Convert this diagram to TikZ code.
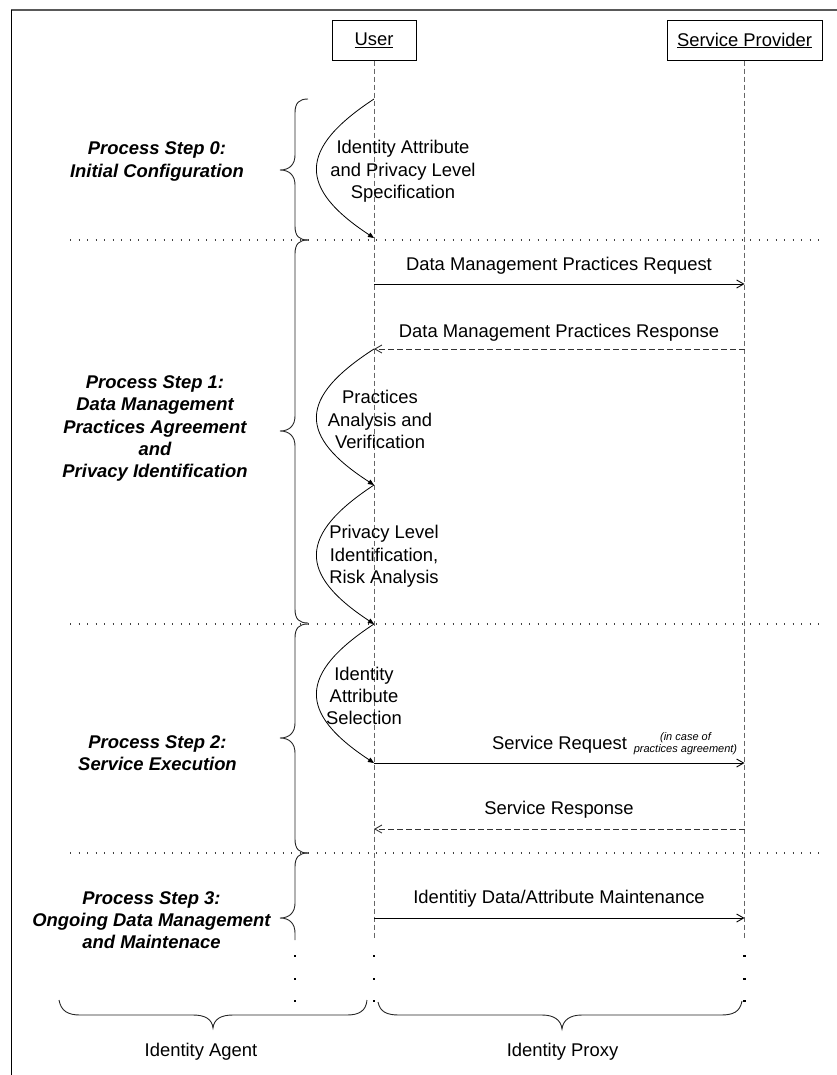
\documentclass[tikz,border=0pt]{standalone}
\usepackage{fontspec}
\setmainfont{Liberation Sans}
\usetikzlibrary{arrows.meta}

\newcommand\lbl{\fontsize{18.4}{22.3}\selectfont}
\newcommand\steplbl{\fontsize{18.4}{22.3}\selectfont\bfseries\itshape}
\newcommand\notelbl{\fontsize{11}{12}\selectfont\itshape}

\tikzset{
  lifebox/.style={draw, line width=0.9pt, minimum height=39.5pt, inner sep=0pt, font=\lbl},
  lifeline/.style={draw=black!60, line width=0.9pt, dash pattern=on 5pt off 3pt},
  msg/.style={line width=0.9pt, -{Straight Barb[length=7pt,width=8pt]}},
  reply/.style={msg, draw=black!80, dash pattern=on 6pt off 3pt},
  selfcall/.style={line width=0.8pt, -{Triangle[length=6pt,width=5pt]}},
  sep/.style={draw=black!75, line width=1.1pt, dash pattern=on 1.1pt off 7.4pt},
  bracket/.style={line width=0.9pt, draw=black!85},
  txt/.style={font=\lbl, align=center, inner sep=0pt},
  steptxt/.style={font=\steplbl, align=center, inner sep=0pt},
  note/.style={font=\notelbl, align=center, inner sep=0pt},
  dot/.style={fill=black, minimum size=2.6pt, inner sep=0pt},
}

\begin{document}
\begin{tikzpicture}[x=1pt,y=-1pt]
\useasboundingbox (0,0) rectangle (837,1075);

% frame
\draw[black!65, line width=1.2pt] (11,10) -- (837,10);
\draw[line width=1pt] (11,10) -- (11,1075);

% participants
\node[lifebox, minimum width=84pt] (user) at (374,40.5) {\underline{User}};
\node[lifebox, minimum width=155pt] (sp) at (744.5,40.5) {\underline{Service Provider}};

\coordinate (uend) at (374,940);
\coordinate (send) at (744.5,940);
\draw[lifeline] (user.south) -- (uend);
\draw[lifeline] (sp.south) -- (send);

% trailing dots below the lifelines
\foreach \y [count=\i] in {956,979,1001} {
  \node[dot] (ud\i) at (374,\y) {};
  \node[dot] (sd\i) at (744.5,\y) {};
  \node[dot] (ad\i) at (295,\y) {};
}

% phase separators
\coordinate (sepA1) at (70,240);  \coordinate (sepA2) at (820,240);
\coordinate (sepB1) at (70,624);  \coordinate (sepB2) at (820,624);
\coordinate (sepC1) at (70,853);  \coordinate (sepC2) at (820,853);
\draw[sep] (sepA1) -- (sepA2);
\draw[sep] (sepB1) -- (sepB2);
\draw[sep] (sepC1) -- (sepC2);

% points on the user lifeline
\coordinate (c0) at (374,99);
\coordinate (c1) at (374,238);
\coordinate (c2) at (374,349);
\coordinate (c3) at (374,485);
\coordinate (c4) at (374,624);
\coordinate (c5) at (374,763);
\coordinate (m1) at (374,284);
\coordinate (m4) at (374,829);
\coordinate (m5) at (374,918);
% points on the provider lifeline
\coordinate (p1) at (744.5,284);
\coordinate (p2) at (744.5,349);
\coordinate (p3) at (744.5,763);
\coordinate (p4) at (744.5,829);
\coordinate (p5) at (744.5,918);

% self activities of the user
\draw[selfcall] (c0) .. controls +(-76,50) and +(-76,-50) .. (c1);
\draw[selfcall] (c2) .. controls +(-76,49) and +(-76,-49) .. (c3);
\draw[selfcall] (c3) .. controls +(-76,50) and +(-76,-50) .. (c4);
\draw[selfcall] (c4) .. controls +(-76,50) and +(-76,-50) .. (c5);

\node[txt] (t0) at (403,171.5) {Identity Attribute\\and Privacy Level\\Specification};
\node[txt] (t2) at (380,419.5) {Practices\\Analysis and\\Verification};
\node[txt] (t3) at (384,556.5) {Privacy Level\\Identification,\\Risk Analysis};
\node[txt] (t4) at (364,696) {Identity\\Attribute\\Selection};

% messages
\draw[msg] (m1) -- (p1);
\node[txt] (l1) at (559,265.5) {Data Management Practices Request};
\draw[reply] (p2) -- (c2);
\node[txt] (l2) at (559,332.5) {Data Management Practices Response};
\draw[msg] (c5) -- (p3);
\node[txt] (l3) at (559.5,744.5) {Service Request};
\node[note] (l3n) at (685.5,744) {(in case of\\practices agreement)};
\draw[reply] (p4) -- (m4);
\node[txt] (l4) at (559,809.5) {Service Response};
\draw[msg] (m5) -- (p5);
\node[txt] (l5) at (559,898.5) {Identitiy Data/Attribute Maintenance};

% process steps
\node[steptxt] (s0) at (157,161.5) {Process Step 0:\\Initial Configuration};
\node[steptxt] (s1) at (155,428.5) {Process Step 1:\\Data Management\\Practices Agreement\\and\\Privacy Identification};
\node[steptxt] (s2) at (157.5,753.5) {Process Step 2:\\Service Execution};
\node[steptxt] (s3) at (151.5,920) {Process Step 3:\\Ongoing Data Management\\and Maintenace};

% step braces
\draw[bracket] (308,99) .. controls (299,99) and (295,103) .. (295,113)
  -- (295,155) .. controls (295,164) and (290,170) .. (280,170)
  .. controls (290,170) and (295,176) .. (295,185)
  -- (295,226) .. controls (295,236) and (299,240) .. (308,240);
\draw[bracket] (308,240) .. controls (299,240) and (295,244) .. (295,254)
  -- (295,416) .. controls (295,425) and (290,431) .. (280,431)
  .. controls (290,431) and (295,437) .. (295,446)
  -- (295,609) .. controls (295,619) and (299,623) .. (308,623);
\draw[bracket] (308,624) .. controls (299,624) and (295,628) .. (295,638)
  -- (295,723) .. controls (295,732) and (290,738) .. (280,738)
  .. controls (290,738) and (295,744) .. (295,753)
  -- (295,839) .. controls (295,849) and (299,853) .. (308,853);
\draw[bracket] (308,853) .. controls (299,853) and (295,857) .. (295,867)
  -- (295,903) .. controls (295,912) and (290,918) .. (280,918)
  .. controls (290,918) and (295,924) .. (295,933) -- (295,940);

% grouping braces at the bottom
\draw[bracket] (59,1000) .. controls (61,1011) and (68,1015) .. (80,1015)
  -- (193,1015) .. controls (205,1015) and (212,1019) .. (213,1028)
  .. controls (214,1019) and (221,1015) .. (233,1015)
  -- (347,1015) .. controls (359,1015) and (366,1011) .. (367,1000);
\draw[bracket] (378,1002) .. controls (380,1012) and (387,1015) .. (399,1015)
  -- (542,1015) .. controls (554,1015) and (561,1020) .. (562,1029)
  .. controls (563,1020) and (570,1015) .. (582,1015)
  -- (721,1015) .. controls (733,1015) and (740,1012) .. (742,1001);

\node[txt] (agent) at (201,1051.5) {Identity Agent};
\node[txt] (proxy) at (562.5,1051.5) {Identity Proxy};
\end{tikzpicture}
\end{document}
